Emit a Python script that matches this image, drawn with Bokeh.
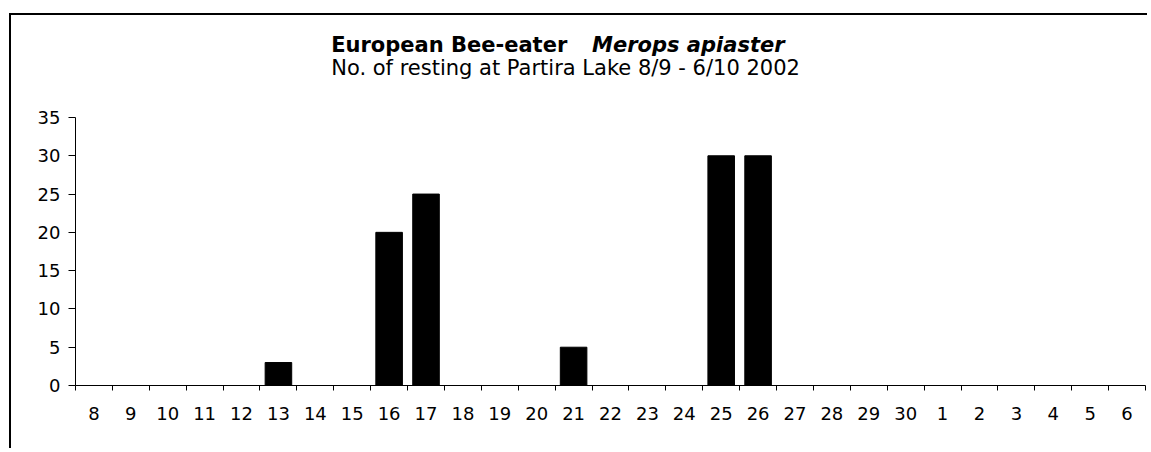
import numpy as np
from bokeh.plotting import figure
from bokeh.models import Range1d, FixedTicker, Label
from bokeh.embed import file_html
from bokeh.resources import INLINE

# ---- data ----
days = ["8", "9", "10", "11", "12", "13", "14", "15", "16", "17", "18", "19", "20",
        "21", "22", "23", "24", "25", "26", "27", "28", "29", "30",
        "1", "2", "3", "4", "5", "6"]
counts = [0, 0, 0, 0, 0, 3, 0, 0, 20, 25, 0, 0, 0,
          5, 0, 0, 0, 30, 30, 0, 0, 0, 0,
          0, 0, 0, 0, 0, 0]
y_ticks = [0, 5, 10, 15, 20, 25, 30, 35]
title_main = "European Bee-eater"
title_species = "Merops apiaster"
subtitle = "No. of resting at Partira Lake 8/9 - 6/10 2002"

n = len(days)
centers = [i + 0.5 for i in range(n)]
bounds = list(range(n + 1))

FONT = "DejaVu Sans"

# frame extends above the axis top (35) to leave room for the titles
y_top = 35 * 370 / 268

p = figure(width=1138, height=435, output_backend="svg", toolbar_location=None,
           x_range=Range1d(0, n), y_range=Range1d(0, y_top),
           min_border_left=64, min_border_right=4, min_border_top=0, min_border_bottom=65)
# chart-area frame (left and top edges) drawn as a shadow so layout is unaffected
p.styles = {"margin-top": "15px", "margin-left": "11px",
            "box-shadow": "-2px -2px 0px 0px black"}
p.title.visible = False
p.outline_line_color = None
p.grid.grid_line_color = None
p.background_fill_color = "white"
p.border_fill_color = "white"

p.vbar(x=centers, top=counts, width=0.72, bottom=0,
       fill_color="black", line_color="black")

# x axis
xa = p.xaxis[0]
xa.ticker = FixedTicker(ticks=centers, minor_ticks=bounds)
xa.major_label_overrides = {c: d for c, d in zip(centers, days)}
xa.major_tick_in = 0
xa.major_tick_out = 0
xa.minor_tick_in = 0
xa.minor_tick_out = 5
xa.minor_tick_line_color = "black"
xa.axis_line_color = "black"
xa.major_label_text_font = FONT
xa.major_label_text_font_size = "18px"
xa.major_label_text_color = "black"
xa.major_label_standoff = 16

# y axis
ya = p.yaxis[0]
ya.ticker = FixedTicker(ticks=y_ticks, minor_ticks=[])
ya.bounds = (0, 35)
ya.major_tick_in = 0
ya.major_tick_out = 7
ya.minor_tick_line_color = None
ya.axis_line_color = "black"
ya.major_tick_line_color = "black"
ya.major_label_text_font = FONT
ya.major_label_text_font_size = "18px"
ya.major_label_text_color = "black"
ya.major_label_standoff = 8

# titles (data units, inside the frame above the axis top)
t1 = Label(x=6.93, y=44.5, text=title_main, text_baseline="alphabetic",
           text_font=FONT, text_font_size="21px", text_font_style="bold",
           text_color="black")
p.add_layout(t1)
t2 = Label(x=14.0, y=44.5, text=title_species, text_baseline="alphabetic",
           text_font=FONT, text_font_size="21px", text_font_style="bold italic",
           text_color="black")
p.add_layout(t2)
t3 = Label(x=6.93, y=41.45, text=subtitle, text_baseline="alphabetic",
           text_font=FONT, text_font_size="21px", text_color="black")
p.add_layout(t3)

open("out.html", "w").write(file_html(p, INLINE))
